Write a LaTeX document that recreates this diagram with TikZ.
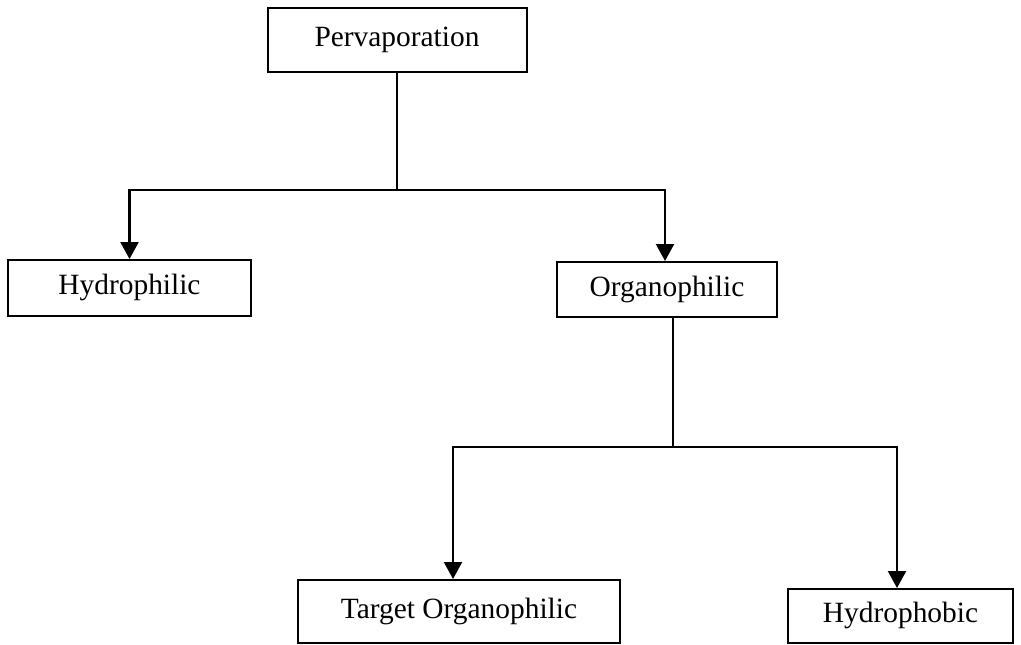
\documentclass[tikz,border=0pt]{standalone}
\usepackage{fontspec}
\setmainfont{Liberation Serif}
\usetikzlibrary{arrows.meta}
\begin{document}
\begin{tikzpicture}[x=1pt,y=-1pt,
  box/.style={draw, line width=2pt, inner sep=0pt, text height=20pt, text depth=6.5pt, font=\fontsize{29.4}{35}\selectfont},
  ln/.style={line width=2.2pt},
  arr/.style={line width=2.2pt, -{Triangle[width=18pt,length=17pt]}}]
\useasboundingbox (0,0) rectangle (1021,645);
\node[box, minimum width=259pt, minimum height=64pt] (P) at (397,40) {Pervaporation};
\node[box, minimum width=243pt, minimum height=56pt] (H) at (129.5,288) {Hydrophilic};
\node[box, minimum width=220pt, minimum height=55pt] (O) at (667,289.5) {Organophilic};
\node[box, minimum width=322pt, minimum height=63pt] (T) at (459,611.5) {Target Organophilic};
\node[box, minimum width=225pt, minimum height=54pt] (Hb) at (900.5,616) {Hydrophobic};
\coordinate (j1) at (397,190);
\coordinate (j2) at (673,447);
\draw[ln] (P.south) -- (j1);
\draw[arr] (j1) -| (H.north);
\draw[arr] (j1) -| ([xshift=-2pt]O.north);
\draw[ln] ([xshift=6pt]O.south) -- (j2);
\draw[arr] (j2) -| ([xshift=-6pt]T.north);
\draw[arr] (j2) -| ([xshift=-3.5pt]Hb.north);
\end{tikzpicture}
\end{document}
